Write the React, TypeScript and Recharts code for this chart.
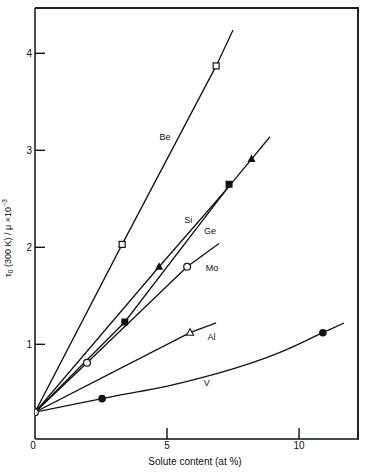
import React from 'react';
import { ComposedChart, Line, Scatter, XAxis, YAxis } from 'recharts';

// values: solute content (at %) vs tau0(300 K)/mu x10^-3
const beCurve = [
  { x: 0, y: 0.3 },
  { x: 3.3, y: 2.03 },
  { x: 6.86, y: 3.87 },
  { x: 7.5, y: 4.24 },
];
const siCurve = [
  { x: 0, y: 0.3 },
  { x: 4.7, y: 1.8 },
  { x: 7.2, y: 2.58 },
  { x: 8.2, y: 2.91 },
  { x: 8.9, y: 3.14 },
];
const geCurve = [
  { x: 0, y: 0.3 },
  { x: 3.4, y: 1.23 },
  { x: 7.2, y: 2.58 },
  { x: 7.35, y: 2.65 },
];
const moCurve = [
  { x: 0, y: 0.3 },
  { x: 1.97, y: 0.81 },
  { x: 5.76, y: 1.8 },
  { x: 6.97, y: 2.04 },
];
const alCurve = [
  { x: 0, y: 0.3 },
  { x: 5.87, y: 1.12 },
  { x: 6.86, y: 1.22 },
];
const vCurve = [
  { x: 0, y: 0.3 },
  { x: 2.54, y: 0.44 },
  { x: 5.5, y: 0.6 },
  { x: 8.0, y: 0.79 },
  { x: 9.3, y: 0.92 },
  { x: 10.9, y: 1.12 },
  { x: 11.7, y: 1.22 },
];

// measured points
const bePoints = [{ x: 3.3, y: 2.03 }, { x: 6.86, y: 3.87 }];
const siPoints = [{ x: 4.7, y: 1.8 }, { x: 8.2, y: 2.91 }];
const gePoints = [{ x: 3.4, y: 1.23 }, { x: 7.35, y: 2.65 }];
const moPoints = [{ x: 1.97, y: 0.81 }, { x: 5.76, y: 1.8 }];
const alPoints = [{ x: 5.87, y: 1.12 }];
const vPoints = [{ x: 2.54, y: 0.44 }, { x: 10.9, y: 1.12 }];
const purePoint = [{ x: 0, y: 0.3 }];

const seriesLabels = [
  { x: 4.92, y: 3.14, name: 'Be' },
  { x: 5.8, y: 2.28, name: 'Si' },
  { x: 6.63, y: 2.17, name: 'Ge' },
  { x: 6.7, y: 1.79, name: 'Mo' },
  { x: 6.68, y: 1.08, name: 'Al' },
  { x: 6.5, y: 0.6, name: 'V' },
];

const xTicks = [0, 5, 10];
const yTicks = [1, 2, 3, 4];
const xDomain = [0, 12.27];
const yDomain = [0.024, 4.467];

const INK = '#111';
const FONT = '"Liberation Sans", Arial, sans-serif';

const XTick = (props: any) => {
  const { x, y, payload } = props;
  return (
    <g>
      {payload.value !== 0 && (
        <line x1={x} x2={x} y1={y - 3} y2={y - 14} stroke={INK} strokeWidth={1.4} />
      )}
      <text x={payload.value === 0 ? x - 2 : x} y={y} dy="0.72em" textAnchor="middle" fontSize={10} fill={INK} fontFamily={FONT}>
        {payload.value}
      </text>
    </g>
  );
};

const YTick = (props: any) => {
  const { x, y, payload } = props;
  return (
    <g>
      <line x1={x + 3} x2={x + 13} y1={y} y2={y} stroke={INK} strokeWidth={1.4} />
      <text x={x} y={y} dy="0.36em" textAnchor="end" fontSize={10} fill={INK} fontFamily={FONT}>
        {payload.value}
      </text>
    </g>
  );
};

const openSquare = (p: any) => (
  <rect x={p.cx - 3} y={p.cy - 3} width={6} height={6} fill="#fff" stroke={INK} strokeWidth={1.2} />
);
const filledSquare = (p: any) => (
  <rect x={p.cx - 3.5} y={p.cy - 3.5} width={7} height={7} fill={INK} />
);
const filledTriangle = (p: any) => (
  <polygon points={`${p.cx},${p.cy - 4.5} ${p.cx - 4},${p.cy + 3} ${p.cx + 4},${p.cy + 3}`} fill={INK} />
);
const openTriangle = (p: any) => (
  <polygon points={`${p.cx},${p.cy - 4} ${p.cx - 3.6},${p.cy + 2.6} ${p.cx + 3.6},${p.cy + 2.6}`} fill="#fff" stroke={INK} strokeWidth={1.1} />
);
const openCircle = (p: any) => (
  <circle cx={p.cx} cy={p.cy} r={3.4} fill="#fff" stroke={INK} strokeWidth={1.2} />
);
const filledCircle = (p: any) => <circle cx={p.cx} cy={p.cy} r={3.8} fill={INK} />;
const nameText = (p: any) => (
  <text x={p.cx} y={p.cy} dy="0.35em" textAnchor="middle" fontSize={9} fill={INK} fontFamily={FONT}>
    {p.payload.name}
  </text>
);

const curves = [beCurve, siCurve, geCurve, moCurve, alCurve];

export default function App() {
  return (
    <div style={{ position: 'absolute', left: 0, top: 0, width: 384, height: 472, background: '#fff' }}>
      <ComposedChart
        width={384}
        height={472}
        margin={{ top: 8, right: 25, left: 5, bottom: 13 }}
        style={{ fontFamily: FONT }}
      >
        <XAxis
          xAxisId="b"
          type="number"
          dataKey="x"
          domain={xDomain}
          ticks={xTicks}
          interval={0}
          height={20}
          tickLine={false}
          tickSize={0}
          tickMargin={3}
          tick={<XTick />}
          axisLine={{ stroke: INK, strokeWidth: 1.5 }}
          allowDataOverflow
        />
        <YAxis
          yAxisId="l"
          type="number"
          dataKey="y"
          domain={yDomain}
          ticks={yTicks}
          interval={0}
          width={30}
          tickLine={false}
          tickSize={0}
          tickMargin={3}
          tick={<YTick />}
          axisLine={{ stroke: INK, strokeWidth: 1.5 }}
          allowDataOverflow
          label={{
            content: () => (
              <text transform="translate(11,238) rotate(-90)" textAnchor="middle" fontSize={9} fill={INK} fontFamily={FONT}>
                τ<tspan fontSize={7} dy={2}>0</tspan>
                <tspan dy={-2}> (300 K) / μ ×10</tspan>
                <tspan fontSize={7} dy={-4}>−3</tspan>
              </text>
            ),
          }}
        />

        {curves.map((c, i) => (
          <Line
            key={i}
            xAxisId="b"
            yAxisId="l"
            data={c}
            dataKey="y"
            type="linear"
            stroke={INK}
            strokeWidth={1.3}
            dot={false}
            isAnimationActive={false}
          />
        ))}
        <Line xAxisId="b" yAxisId="l" data={vCurve} dataKey="y" type="monotone" stroke={INK} strokeWidth={1.3} dot={false} isAnimationActive={false} />

        <Scatter xAxisId="b" yAxisId="l" data={bePoints} shape={openSquare} isAnimationActive={false} />
        <Scatter xAxisId="b" yAxisId="l" data={siPoints} shape={filledTriangle} isAnimationActive={false} />
        <Scatter xAxisId="b" yAxisId="l" data={gePoints} shape={filledSquare} isAnimationActive={false} />
        <Scatter xAxisId="b" yAxisId="l" data={moPoints} shape={openCircle} isAnimationActive={false} />
        <Scatter xAxisId="b" yAxisId="l" data={alPoints} shape={openTriangle} isAnimationActive={false} />
        <Scatter xAxisId="b" yAxisId="l" data={vPoints} shape={filledCircle} isAnimationActive={false} />
        <Scatter xAxisId="b" yAxisId="l" data={purePoint} shape={openCircle} isAnimationActive={false} />
        <Scatter xAxisId="b" yAxisId="l" data={seriesLabels} shape={nameText} isAnimationActive={false} />
      </ComposedChart>
      {/* top and right edges of the plot frame */}
      <div
        style={{
          position: 'absolute',
          left: 35,
          top: 7,
          width: 324,
          height: 432,
          boxSizing: 'border-box',
          borderTop: '2px solid #222',
          borderRight: '2px solid #222',
          zIndex: 5,
          pointerEvents: 'none',
        }}
      />
      <div
        style={{
          position: 'absolute',
          left: 0,
          top: 457,
          width: 390,
          textAlign: 'center',
          fontFamily: FONT,
          fontSize: 10,
          color: INK,
          lineHeight: '10px',
        }}
      >
        Solute content (at %)
      </div>
    </div>
  );
}
